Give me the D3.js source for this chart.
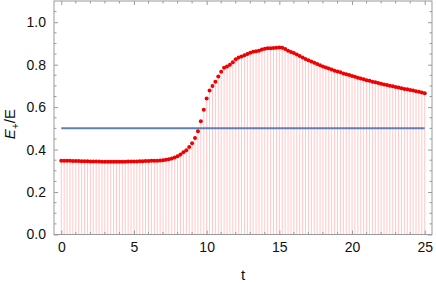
<!DOCTYPE html>
<html>
<head>
<meta charset="utf-8">
<script src="https://cdn.jsdelivr.net/npm/d3@7"></script>
<style>
  body { margin: 0; background: #fff; }
  text { font-family: "Liberation Sans", Arial, sans-serif; }
</style>
</head>
<body>
<div id="chart"></div>
<script>
// sample times (step 0.2) and the ratio E+/E
var tStep = 0.2;
var ratio = [
  0.348, 0.348, 0.347, 0.347, 0.346, 0.346,
  0.346, 0.345, 0.345, 0.345, 0.344,
  0.344, 0.344, 0.344, 0.343, 0.343,
  0.343, 0.343, 0.343, 0.343, 0.343,
  0.343, 0.343, 0.344, 0.344, 0.344,
  0.344, 0.345, 0.345, 0.346, 0.346,
  0.347, 0.347, 0.348, 0.349, 0.350,
  0.352, 0.355, 0.358, 0.363, 0.369,
  0.377, 0.387, 0.397, 0.412, 0.430,
  0.455, 0.486, 0.533, 0.588, 0.641,
  0.678, 0.700, 0.720, 0.744, 0.767,
  0.785, 0.792, 0.800, 0.811, 0.826,
  0.834, 0.838, 0.844, 0.850, 0.856,
  0.861, 0.863, 0.866, 0.871, 0.875,
  0.877, 0.877, 0.879, 0.880, 0.881,
  0.880, 0.874, 0.866, 0.860, 0.855,
  0.848, 0.841, 0.834, 0.827, 0.821,
  0.815, 0.809, 0.803, 0.797, 0.792,
  0.787, 0.782, 0.777, 0.772, 0.768,
  0.764, 0.759, 0.755, 0.751, 0.747,
  0.743, 0.739, 0.735, 0.731, 0.727,
  0.724, 0.720, 0.717, 0.714, 0.710,
  0.707, 0.704, 0.701, 0.698, 0.695,
  0.692, 0.689, 0.686, 0.684, 0.681,
  0.678, 0.675, 0.672, 0.669, 0.665
];
var refLevel = 0.5;
var xTicks = [0, 5, 10, 15, 20, 25];
var yTicks = [0.0, 0.2, 0.4, 0.6, 0.8, 1.0];
var xMinor = d3.range(0, 26, 1);
var yMinor = d3.range(0, 1.1, 0.05);

var width = 436,
    height = 285,
    margin = {left: 54, right: 432, top: 1, bottom: 234.5};

var points = ratio.map(function(v, i) { return {t: i * tStep, v: v}; });

var x = d3.scaleLinear().domain([-0.5, 25.5]).range([margin.left, margin.right]);
var y = d3.scaleLinear().domain([0, 1.1]).range([margin.bottom, margin.top]);

var svg = d3.select("#chart").append("svg")
    .attr("width", width)
    .attr("height", height);

// stems down to the axis
svg.append("g").selectAll("line")
    .data(points)
    .enter().append("line")
    .attr("x1", function(d) { return x(d.t); })
    .attr("x2", function(d) { return x(d.t); })
    .attr("y1", y(0))
    .attr("y2", function(d) { return y(d.v); })
    .style("stroke", "rgb(255,0,0)")
    .style("stroke-opacity", 0.22)
    .style("stroke-width", 1);

// reference line at 0.5
svg.append("line")
    .attr("x1", x(0))
    .attr("x2", x(25))
    .attr("y1", y(refLevel))
    .attr("y2", y(refLevel))
    .style("stroke", "#5e81b5")
    .style("stroke-width", 2);

svg.append("g").selectAll("circle")
    .data(points)
    .enter().append("circle")
    .attr("cx", function(d) { return x(d.t); })
    .attr("cy", function(d) { return y(d.v); })
    .attr("r", 2)
    .style("fill", "rgb(240,0,0)");

// frame with inward ticks on all four sides
var frameColor = "#999";
var fmt = d3.format(".1f");

var bottomAxis = svg.append("g")
    .attr("transform", "translate(0," + margin.bottom + ")")
    .call(d3.axisBottom(x).tickValues(xTicks).tickSize(-4).tickPadding(8).tickFormat(d3.format("d")));
var topAxis = svg.append("g")
    .attr("transform", "translate(0," + margin.top + ")")
    .call(d3.axisTop(x).tickValues(xTicks).tickSize(-4).tickFormat(""));
var leftAxis = svg.append("g")
    .attr("transform", "translate(" + margin.left + ",0)")
    .call(d3.axisLeft(y).tickValues(yTicks).tickSize(-4).tickPadding(8).tickFormat(fmt));
var rightAxis = svg.append("g")
    .attr("transform", "translate(" + margin.right + ",0)")
    .call(d3.axisRight(y).tickValues(yTicks).tickSize(-4).tickFormat(""));

[bottomAxis, topAxis, leftAxis, rightAxis].forEach(function(a) {
    a.select(".domain").remove();
    a.selectAll("line").style("stroke", frameColor);
    a.selectAll("text").style("font-size", "14px").style("fill", "#111");
});

// minor ticks
var xm = xMinor.filter(function(d) { return d % 5 !== 0; });
var ym = yMinor.filter(function(d, i) { return i % 4 !== 0; });

svg.append("g").selectAll("line")
    .data(xm)
    .enter().append("line")
    .attr("x1", function(d) { return x(d); })
    .attr("x2", function(d) { return x(d); })
    .attr("y1", margin.bottom).attr("y2", margin.bottom - 2.5)
    .style("stroke", frameColor);
svg.append("g").selectAll("line")
    .data(xm)
    .enter().append("line")
    .attr("x1", function(d) { return x(d); })
    .attr("x2", function(d) { return x(d); })
    .attr("y1", margin.top).attr("y2", margin.top + 2.5)
    .style("stroke", frameColor);
svg.append("g").selectAll("line")
    .data(ym)
    .enter().append("line")
    .attr("x1", margin.left).attr("x2", margin.left + 2.5)
    .attr("y1", function(d) { return y(d); })
    .attr("y2", function(d) { return y(d); })
    .style("stroke", frameColor);
svg.append("g").selectAll("line")
    .data(ym)
    .enter().append("line")
    .attr("x1", margin.right).attr("x2", margin.right - 2.5)
    .attr("y1", function(d) { return y(d); })
    .attr("y2", function(d) { return y(d); })
    .style("stroke", frameColor);

svg.append("rect")
    .attr("x", margin.left).attr("y", margin.top)
    .attr("width", margin.right - margin.left).attr("height", margin.bottom - margin.top)
    .style("fill", "none")
    .style("stroke", frameColor)
    .style("stroke-width", 1);

// axis labels
svg.append("text")
    .attr("x", (margin.left + margin.right) / 2)
    .attr("y", 280)
    .attr("text-anchor", "middle")
    .style("font-size", "15px")
    .style("fill", "#111")
    .text("t");

var yl = svg.append("text")
    .attr("transform", "translate(15," + y(0.52) + ") rotate(-90)")
    .attr("text-anchor", "middle")
    .style("font-size", "15px")
    .style("fill", "#111");
yl.append("tspan").style("font-style", "italic").text("E");
yl.append("tspan").attr("dy", 4).style("font-size", "10px").text("+");
yl.append("tspan").attr("dy", -4).text("/E");
</script>
</body>
</html>
